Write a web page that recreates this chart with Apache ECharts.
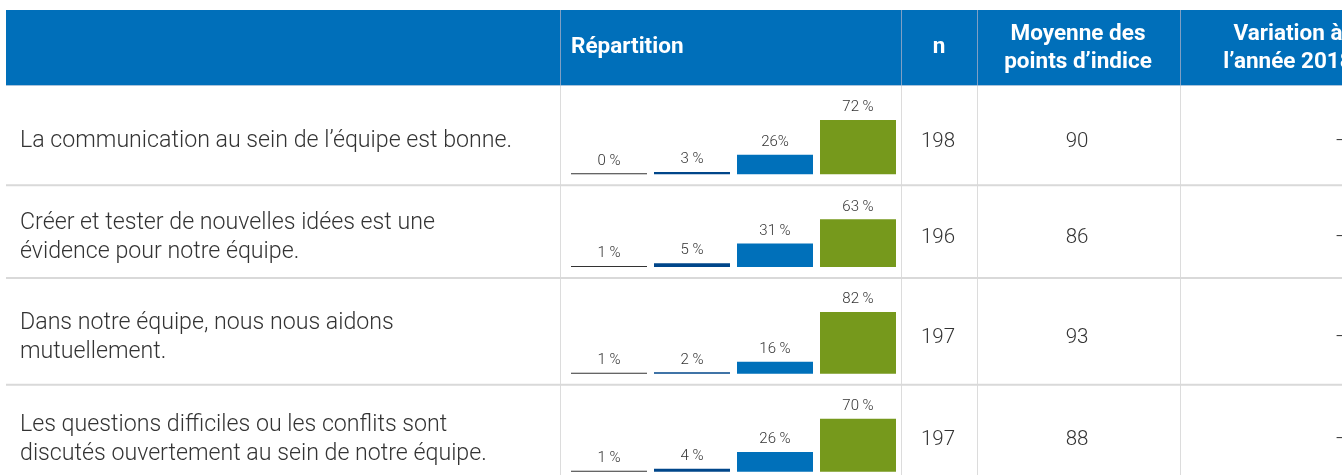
<!DOCTYPE html>
<html>
<head>
<meta charset="utf-8">
<script src="https://cdn.jsdelivr.net/npm/echarts@6/dist/echarts.min.js"></script>
<style>
html,body{margin:0;padding:0;background:#fff;}
#chart{width:1342px;height:475px;}
</style>
</head>
<body>
<div id="chart"></div>
<script>
// ---- data ----
const categories = ['Pas du tout d’accord', 'Plutôt pas d’accord', 'Plutôt d’accord', 'Tout à fait d’accord'];
const statements = [
  'La communication au sein de l’équipe est bonne.',
  'Créer et tester de nouvelles idées est une\névidence pour notre équipe.',
  'Dans notre équipe, nous nous aidons\nmutuellement.',
  'Les questions difficiles ou les conflits sont\ndiscutés ouvertement au sein de notre équipe.'
];
const shares = [
  [0, 3, 26, 72],
  [1, 5, 31, 63],
  [1, 2, 16, 82],
  [1, 4, 26, 70]
];
const shareLabels = [
  ['0 %', '3 %', '26%', '72 %'],
  ['1 %', '5 %', '31 %', '63 %'],
  ['1 %', '2 %', '16 %', '82 %'],
  ['1 %', '4 %', '26 %', '70 %']
];
const nValues = [198, 196, 197, 197];
const meanValues = [90, 86, 93, 88];
const variationValues = ['–', '–', '–', '–'];
const headers = ['Répartition', 'n', 'Moyenne des\npoints d’indice', 'Variation à\nl’année 2018'];

// ---- layout / style ----
const barColors = ['#333333', '#00468a', '#0070ba', '#76991c'];
const headerBlue = '#006fba';
const textColor = '#333333';
const font = 'Roboto, "Noto Sans", sans-serif';
const pxPerPct = 0.755;
const padTop = 34, padBottom = 11;
const headerTop = 10, headerBottom = 85;
const tableLeft = 6, tableRight = 1342;
const colX = [560, 901, 977, 1180];
const gridLeft = 567.5, gridWidth = 332;

const rowTops = [];
const baselines = [];
let y = headerBottom + 1;
shares.forEach(r => {
  rowTops.push(y);
  const maxV = Math.max(...r);
  const base = y + padTop + maxV * pxPerPct;
  baselines.push(base);
  y = base + padBottom;
});
rowTops.push(y);

const grids = [], xAxes = [], yAxes = [], series = [];
shares.forEach((r, i) => {
  const h = 100 * pxPerPct;
  grids.push({left: gridLeft, width: gridWidth, top: baselines[i] - h, height: h, containLabel: false});
  xAxes.push({type: 'category', gridIndex: i, data: categories, show: false});
  yAxes.push({type: 'value', gridIndex: i, min: 0, max: 100, show: false});
  series.push({
    type: 'bar', xAxisIndex: i, yAxisIndex: i, barWidth: 76, barMinHeight: 1,
    silent: true, animation: false,
    data: r.map((v, j) => ({value: v, itemStyle: {color: barColors[j]}})),
    label: {
      show: true, position: 'top', distance: 5,
      fontFamily: font, fontSize: 15, fontWeight: 300, color: textColor,
      formatter: p => shareLabels[i][p.dataIndex]
    }
  });
});

const g = [];
// header background
g.push({type: 'rect', shape: {x: tableLeft, y: headerTop, width: tableRight - tableLeft, height: headerBottom - headerTop}, style: {fill: headerBlue}, z: 0});
// header dividers
colX.forEach(x => g.push({type: 'line', shape: {x1: x + 0.5, y1: headerTop, x2: x + 0.5, y2: headerBottom}, style: {stroke: '#7f9fc4', lineWidth: 1}, z: 1}));
g.push({type: 'line', shape: {x1: tableLeft, y1: headerBottom + 0.5, x2: tableRight, y2: headerBottom + 0.5}, style: {stroke: '#a9c3dc', lineWidth: 1}, z: 1});
// body dividers
colX.forEach(x => g.push({type: 'line', shape: {x1: x + 0.5, y1: headerBottom + 1, x2: x + 0.5, y2: 475}, style: {stroke: '#dcdcdc', lineWidth: 1}, z: 1}));
rowTops.slice(1).forEach(t => g.push({type: 'line', shape: {x1: tableLeft, y1: t, x2: tableRight, y2: t}, style: {stroke: '#d9d9d9', lineWidth: 2}, z: 1}));
// header text
const hStyle = {fill: '#ffffff', font: 'bold 22.5px ' + font, lineHeight: 28};
const hMid = (headerTop + headerBottom) / 2;
g.push({type: 'text', x: 571, y: hMid, style: Object.assign({text: headers[0], align: 'left', verticalAlign: 'middle'}, hStyle), z: 2});
g.push({type: 'text', x: 939, y: hMid, style: Object.assign({text: headers[1], align: 'center', verticalAlign: 'middle'}, hStyle), z: 2});
g.push({type: 'text', x: 1078, y: hMid + 1, style: Object.assign({text: headers[2], align: 'center', verticalAlign: 'middle'}, hStyle), z: 2});
g.push({type: 'text', x: 1288, y: hMid + 1, style: Object.assign({text: headers[3], align: 'center', verticalAlign: 'middle'}, hStyle), z: 2});
// body text
const bStyle = {fill: textColor, font: '300 23.2px ' + font, lineHeight: 29, verticalAlign: 'middle'};
const nStyle = {fill: textColor, font: '300 20.5px ' + font, verticalAlign: 'middle'};
statements.forEach((s, i) => {
  const mid = (rowTops[i] + rowTops[i + 1]) / 2 + 6;
  g.push({type: 'text', x: 20, y: mid, style: Object.assign({text: s, align: 'left'}, bStyle), z: 2});
  g.push({type: 'text', x: 938, y: mid, style: Object.assign({text: String(nValues[i]), align: 'center'}, nStyle), z: 2});
  g.push({type: 'text', x: 1077, y: mid, style: Object.assign({text: String(meanValues[i]), align: 'center'}, nStyle), z: 2});
  g.push({type: 'text', x: 1335, y: mid, style: Object.assign({text: variationValues[i], align: 'left'}, nStyle), z: 2});
});

const chart = echarts.init(document.getElementById('chart'), null, {renderer: 'canvas'});
chart.setOption({
  backgroundColor: '#ffffff',
  animation: false,
  grid: grids, xAxis: xAxes, yAxis: yAxes, series: series,
  graphic: {elements: g}
});
</script>
</body>
</html>
